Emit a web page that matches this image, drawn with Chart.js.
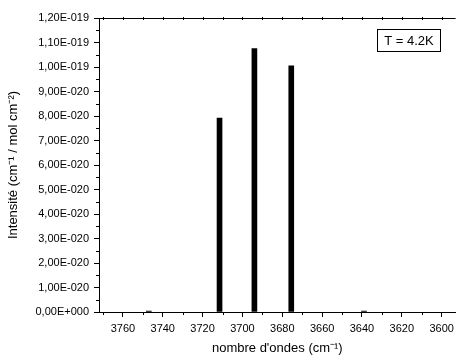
<!DOCTYPE html>
<html>
<head>
<meta charset="utf-8">
<script src="https://cdn.jsdelivr.net/npm/chart.js@4.4.0/dist/chart.umd.min.js"></script>
<style>
  html, body { margin: 0; padding: 0; background: #fff; }
  #wrap { width: 459px; height: 356px; }
</style>
</head>
<body>
<div id="wrap"><canvas id="chart"></canvas></div>
<script>
// wavenumber (cm-1) of each line and its intensity
const wavenumbers = [3747, 3711.5, 3694, 3675.5, 3639];
const intensities = [4e-22, 7.92e-20, 1.075e-19, 1.005e-19, 4e-22];

const xTicks = [3760, 3740, 3720, 3700, 3680, 3660, 3640, 3620, 3600];
const xMinorTicks = [3770, 3750, 3730, 3710, 3690, 3670, 3650, 3630, 3610];
const yTicks = [0, 1e-20, 2e-20, 3e-20, 4e-20, 5e-20, 6e-20, 7e-20, 8e-20, 9e-20, 1e-19, 1.1e-19, 1.2e-19];
const yMinorTicks = [0.5e-20, 1.5e-20, 2.5e-20, 3.5e-20, 4.5e-20, 5.5e-20, 6.5e-20, 7.5e-20, 8.5e-20, 9.5e-20, 10.5e-20, 11.5e-20];
const xRange = [3593, 3772];
const yRange = [0, 1.2e-19];
const annotation = 'T = 4.2K';

const FONT = 'Arial, "Liberation Sans", sans-serif';

// 1,00E-020 style labels
function sci(v) {
    if (Math.abs(v) < 1e-30) return '0,00E+000';
    const parts = v.toExponential(2).split('e');
    const n = parseInt(parts[1], 10);
    return parts[0].replace('.', ',') + 'E' + (n < 0 ? '-' : '+') + String(Math.abs(n)).padStart(3, '0');
}

const decor = {
    id: 'decor',
    afterDraw(chart) {
        const { ctx, chartArea: a, scales: { x, y } } = chart;
        ctx.save();
        ctx.strokeStyle = '#000';
        ctx.lineWidth = 1;
        ctx.beginPath();
        // top frame line
        ctx.moveTo(a.left, Math.round(a.top) + 0.5);
        ctx.lineTo(a.right, Math.round(a.top) + 0.5);
        xMinorTicks.forEach(v => {
            const px = Math.round(x.getPixelForValue(v)) + 0.5;
            ctx.moveTo(px, a.bottom);
            ctx.lineTo(px, a.bottom + 3);
        });
        xTicks.concat(xMinorTicks).forEach(v => {
            const px = Math.round(x.getPixelForValue(v)) + 0.5;
            ctx.moveTo(px, a.top - 1);
            ctx.lineTo(px, a.top + 2);
        });
        yMinorTicks.forEach(v => {
            const py = Math.round(y.getPixelForValue(v)) + 0.5;
            ctx.moveTo(a.left - 3, py);
            ctx.lineTo(a.left, py);
        });
        ctx.stroke();

        // temperature box
        const bx = a.right - 79, by = a.top + 11;
        ctx.strokeRect(Math.round(bx) + 0.5, Math.round(by) + 0.5, 63, 22);
        ctx.fillStyle = '#000';
        ctx.font = '13px ' + FONT;
        ctx.textAlign = 'center';
        ctx.textBaseline = 'middle';
        ctx.fillText(annotation, Math.round(bx) + 32, Math.round(by) + 12);
        ctx.restore();
    }
};

new Chart(document.getElementById('chart'), {
    type: 'bar',
    data: {
        datasets: [{
            data: wavenumbers.map((w, i) => ({ x: w, y: intensities[i] })),
            backgroundColor: '#000',
            borderWidth: 0,
            barThickness: 5
        }]
    },
    options: {
        responsive: true,
        maintainAspectRatio: false,
        animation: false,
        layout: { padding: { top: 18, right: 2, left: 0, bottom: 0 } },
        plugins: { legend: { display: false }, tooltip: { enabled: false } },
        scales: {
            x: {
                type: 'linear',
                reverse: true,
                min: xRange[0],
                max: xRange[1],
                offset: false,
                afterBuildTicks: s => { s.ticks = xTicks.map(v => ({ value: v })); },
                afterFit: s => { s.height = 44; },
                ticks: {
                    autoSkip: false,
                    maxRotation: 0,
                    padding: 5,
                    color: '#000',
                    font: { family: FONT, size: 11 },
                    callback: v => String(v)
                },
                grid: { offset: false, drawOnChartArea: false, tickLength: 5, color: '#000' },
                border: { color: '#000', width: 1 },
                title: {
                    display: true,
                    text: "nombre d'ondes (cm\u207B\u00B9)",
                    color: '#000',
                    font: { family: FONT, size: 13 },
                    padding: { top: 0, bottom: 0 }
                }
            },
            y: {
                min: yRange[0],
                max: yRange[1],
                afterBuildTicks: s => { s.ticks = yTicks.map(v => ({ value: v })); },
                afterFit: s => { s.width = 99; },
                ticks: {
                    padding: 5,
                    color: '#000',
                    font: { family: FONT, size: 11 },
                    callback: v => sci(v)
                },
                grid: { drawOnChartArea: false, tickLength: 5, color: '#000' },
                border: { color: '#000', width: 1 },
                title: {
                    display: true,
                    text: 'Intensit\u00E9 (cm\u207B\u00B9 / mol cm\u207B\u00B2)',
                    color: '#000',
                    font: { family: FONT, size: 13 },
                    padding: { top: 6, bottom: 0 }
                }
            }
        }
    },
    plugins: [decor]
});
</script>
</body>
</html>
